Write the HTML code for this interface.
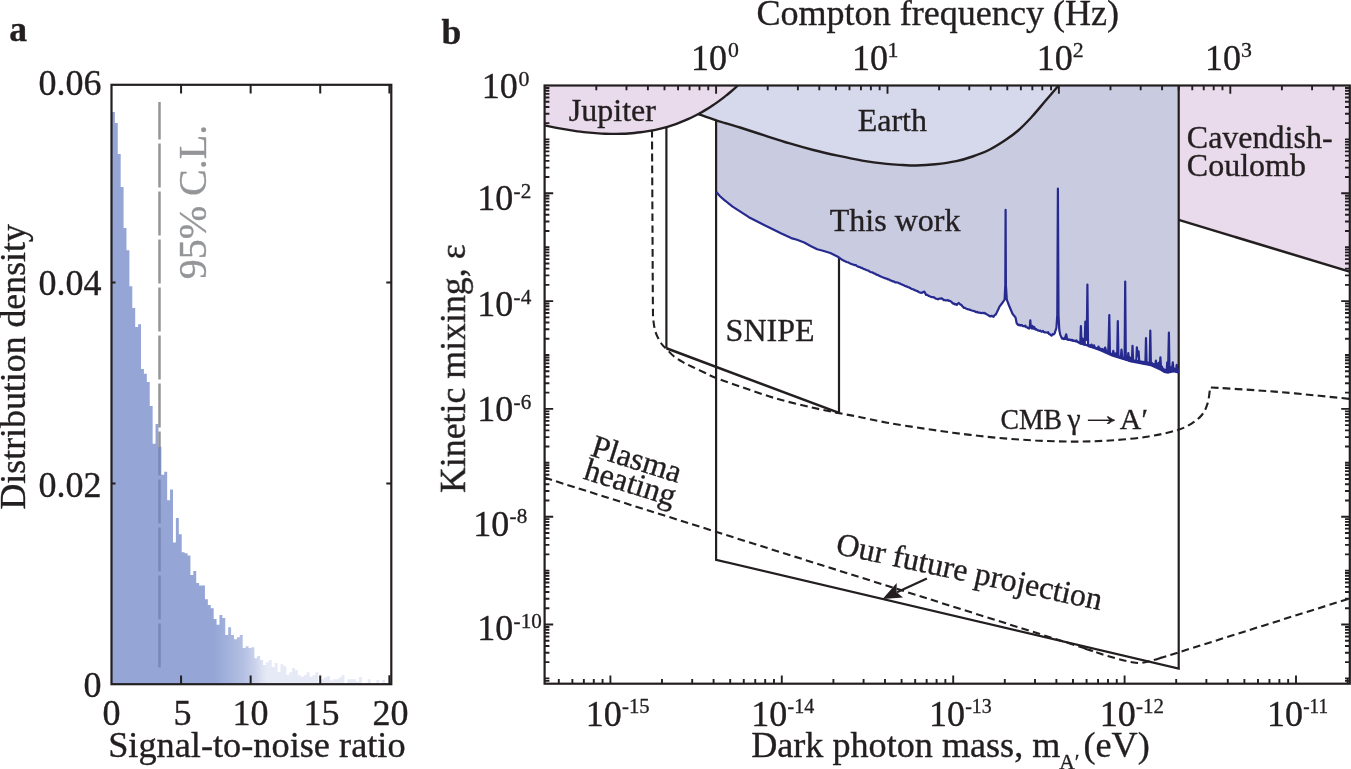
<!DOCTYPE html>
<html lang="en"><head><meta charset="utf-8"><title>Figure</title>
<style>html,body{margin:0;padding:0;background:#fff}svg{display:block}svg{color:#231f20}text{font-family:"Liberation Serif", "DejaVu Serif", serif;fill:currentColor;stroke:currentColor;stroke-width:0.35px}</style></head><body>
<svg width="1351" height="769" viewBox="0 0 1351 769">
<rect width="1351" height="769" fill="#fff"/>
<defs><filter id="flat" filterUnits="userSpaceOnUse" x="0" y="0" width="1351" height="769" color-interpolation-filters="sRGB"><feColorMatrix type="saturate" values="1"/></filter></defs>
<g filter="url(#flat)">
<g id="panel-a">
<defs><linearGradient id="hg" gradientUnits="userSpaceOnUse" x1="213" y1="0" x2="267" y2="0">
<stop offset="0" stop-color="#94a5d6"/>
<stop offset="0.22" stop-color="#a0afdb"/>
<stop offset="0.56" stop-color="#b4c0e2"/>
<stop offset="0.76" stop-color="#c8d0ea"/>
<stop offset="0.92" stop-color="#dee2f3"/>
<stop offset="1" stop-color="#e6e9f6"/>
</linearGradient></defs>
<path d="M111.95 684 L111.95 112.1 L114.86 112.1 L114.86 123 L117.76 123 L117.76 154 L120.67 154 L120.67 187 L123.57 187 L123.57 228 L126.48 228 L126.48 250.2 L129.39 250.2 L129.39 286.2 L132.29 286.2 L132.29 308 L135.2 308 L135.2 326.9 L138.1 326.9 L138.1 324.2 L141.01 324.2 L141.01 369 L143.92 369 L143.92 373.8 L146.82 373.8 L146.82 382.1 L149.73 382.1 L149.73 406 L152.63 406 L152.63 443.8 L155.54 443.8 L155.54 424 L158.45 424 L158.45 446.8 L161.35 446.8 L161.35 474.8 L164.26 474.8 L164.26 471.8 L167.16 471.8 L167.16 500.2 L170.07 500.2 L170.07 489.6 L172.98 489.6 L172.98 542.4 L175.88 542.4 L175.88 518 L178.79 518 L178.79 534.3 L181.69 534.3 L181.69 552.2 L184.6 552.2 L184.6 553.2 L187.51 553.2 L187.51 555.4 L190.41 555.4 L190.41 575 L193.32 575 L193.32 571 L196.22 571 L196.22 583.1 L199.13 583.1 L199.13 585.4 L202.04 585.4 L202.04 585.4 L204.94 585.4 L204.94 599.3 L207.85 599.3 L207.85 605 L210.75 605 L210.75 608.3 L213.66 608.3 L213.66 619.1 L216.57 619.1 L216.57 624.8 L219.47 624.8 L219.47 615.1 L222.38 615.1 L222.38 618.1 L225.28 618.1 L225.28 635 L228.19 635 L228.19 627.2 L231.1 627.2 L231.1 634.9 L234 634.9 L234 639.2 L236.91 639.2 L236.91 637.2 L239.81 637.2 L239.81 635.1 L242.72 635.1 L242.72 648 L245.63 648 L245.63 646.2 L248.53 646.2 L248.53 648 L251.44 648 L251.44 647.2 L254.34 647.2 L254.34 658.2 L257.25 658.2 L257.25 656 L260.16 656 L260.16 660.1 L263.06 660.1 L263.06 665.1 L265.97 665.1 L265.97 662.2 L268.87 662.2 L268.87 660.1 L271.78 660.1 L271.78 667.1 L274.69 667.1 L274.69 663.1 L277.59 663.1 L277.59 671.9 L280.5 671.9 L280.5 664.2 L283.4 664.2 L283.4 666.2 L286.31 666.2 L286.31 675.1 L289.22 675.1 L289.22 672.2 L292.12 672.2 L292.12 668.1 L295.03 668.1 L295.03 670.3 L297.93 670.3 L297.93 675.2 L300.84 675.2 L300.84 676.8 L303.75 676.8 L303.75 675.2 L306.65 675.2 L306.65 672.2 L309.56 672.2 L309.56 676.8 L312.46 676.8 L312.46 675.2 L315.37 675.2 L315.37 672.2 L318.28 672.2 L318.28 684 L321.18 684 L321.18 679.3 L324.09 679.3 L324.09 677.4 L326.99 677.4 L326.99 676.1 L329.9 676.1 L329.9 680.5 L332.81 680.5 L332.81 679.3 L335.71 679.3 L335.71 679.3 L338.62 679.3 L338.62 677.4 L341.52 677.4 L341.52 675.1 L344.43 675.1 L344.43 684 L347.34 684 L347.34 679.3 L350.24 679.3 L350.24 679.3 L353.15 679.3 L353.15 679.3 L356.05 679.3 L356.05 681.5 L358.96 681.5 L358.96 677.1 L361.87 677.1 L361.87 684 L364.77 684 L364.77 684 L367.68 684 L367.68 679.3 L370.58 679.3 L370.58 684 L373.49 684 L373.49 684 L376.4 684 L376.4 680 L379.3 680 L379.3 684 L382.21 684 L382.21 680 L385.11 680 L385.11 684 L388.02 684 L388.02 684 L390.4 684 L390.4 684 Z" fill="url(#hg)"/>
<defs><linearGradient id="clg" gradientUnits="userSpaceOnUse" x1="0" y1="102" x2="0" y2="667"><stop offset="0" stop-color="#939598"/><stop offset="0.6103" stop-color="#939598"/><stop offset="0.6103" stop-color="#7a88b4"/><stop offset="1" stop-color="#7a88b4"/></linearGradient></defs>
<path d="M159.5 102.1 V667.7" stroke="url(#clg)" stroke-width="2.5" fill="none" stroke-dasharray="44.2 3.8" stroke-dashoffset="6.7"/>
<text transform="translate(206.0 279.2) rotate(-90)" font-size="40" style="color:#939598">95% C.L.</text>
<rect x="111.5" y="84.8" width="279.8" height="599.4" fill="none" stroke="#231f20" stroke-width="2.2"/>
<path d="M181.07 84.8 v8.6 M181.07 684.2 v-8.6 M250.65 84.8 v8.6 M250.65 684.2 v-8.6 M320.23 84.8 v8.6 M320.23 684.2 v-8.6 M389.4 684.2 v-9 M389.4 84.8 v8.6 M111.5 282.6 h4 M391.3 282.6 h-5 M111.5 483.4 h4 M391.3 483.4 h-5" stroke="#231f20" stroke-width="2" fill="none"/>
<g font-size="36" fill="#231f20">
<text x="101.5" y="94.7" text-anchor="end">0.06</text>
<text x="101.5" y="294.7" text-anchor="end">0.04</text>
<text x="101.5" y="497" text-anchor="end">0.02</text>
<text x="101.5" y="696.5" text-anchor="end">0</text>
<text x="111.4" y="725.3" text-anchor="middle">0</text>
<text x="182.4" y="725.3" text-anchor="middle">5</text>
<text x="250.4" y="725.3" text-anchor="middle">10</text>
<text x="321.6" y="725.3" text-anchor="middle">15</text>
<text x="390.6" y="725.3" text-anchor="middle">20</text>
</g>
<text x="108.2" y="756.8" font-size="36.3" fill="#231f20">Signal-to-noise ratio</text>
<text transform="translate(25.4 509.5) rotate(-90)" font-size="35.8" fill="#231f20">Distribution density</text>
<text x="9.2" y="40.5" font-size="35.6" font-weight="bold" fill="#231f20">a</text>
</g>
<g id="panel-b">
<defs><clipPath id="bclip"><rect x="544.6" y="85.5" width="805.2" height="598.2"/></clipPath></defs>
<g clip-path="url(#bclip)">
<path d="M716.3 85.5 L1178.7 85.5 L1178.7 372.3 L1178.7 372.3 L1177.5 372.2 L1176.7 364.9 L1175.9 371.8 L1174.75 369.41 L1173.6 371.4 L1172.8 362.3 L1171.8 371.2 L1170.65 367.18 L1169.5 370.4 L1168.9 332.7 L1168.3 360 L1167.8 369.8 L1167.2 362.3 L1166.7 370.6 L1165.2 370.8 L1163.8 369.6 L1162.9 369.77 L1162 366.6 L1161.1 368.2 L1160.4 357.3 L1159.7 367.8 L1158.67 362.93 L1157.63 366.53 L1156.6 366.6 L1155.9 360.6 L1155.2 366 L1154.25 364.13 L1153.3 365.7 L1152.1 363.22 L1150.9 364.9 L1150.3 330.7 L1149.7 364.6 L1148.67 363.2 L1147.63 363.82 L1146.6 363.8 L1146 338.1 L1145.4 363.6 L1144.43 363.36 L1143.45 363.33 L1142.47 363.03 L1141.5 362.6 L1140.4 362.46 L1139.3 362 L1138.6 351.4 L1137.6 356 L1136.9 347.4 L1136.3 361.6 L1135.5 360.85 L1134.7 361.49 L1133.9 360.92 L1133.1 360.9 L1132.5 345.9 L1131.9 361 L1130.93 361.22 L1129.97 357.47 L1129 360.6 L1128.3 353 L1127.6 360 L1126.7 359.96 L1125.8 359.3 L1125.2 281.6 L1124.6 358.9 L1123.45 358.72 L1122.3 358.2 L1121.5 349.6 L1120.8 357.6 L1119.6 357.06 L1118.4 356.6 L1117.8 321.2 L1117.2 356.2 L1116.4 355.76 L1115.6 353.42 L1114.8 355.72 L1114 355 L1113.3 350.9 L1112.7 354.7 L1111.77 353.87 L1110.83 353.67 L1109.9 352.6 L1109.3 315 L1108.7 340 L1108.2 352 L1107.2 351.76 L1106.2 351.4 L1105.1 347.6 L1104 350.8 L1103.12 350.18 L1102.24 349.02 L1101.36 349.94 L1100.48 348.66 L1099.6 349.3 L1098.5 346.6 L1097.5 348.8 L1096.67 348.29 L1095.83 347.88 L1095 347.9 L1094 345.3 L1093 347.3 L1092.2 345.49 L1091.4 344.6 L1090.6 346.81 L1089.8 345.29 L1089 346.3 L1088 344 L1087.4 284.5 L1086.8 338 L1085.9 340 L1085.3 321.7 L1084.7 344.6 L1083.3 344.4 L1082.6 338.5 L1081.5 343.8 L1080.9 326 L1080.3 343.5 L1079.34 342.9 L1078.38 342.3 L1077.42 341.6 L1076.46 340.41 L1075.5 341.2 L1074.66 340.9 L1073.81 340.89 L1072.97 340.66 L1072.12 339.92 L1071.28 340.14 L1070.43 339.72 L1069.59 339.54 L1068.74 339.98 L1067.9 339.5 L1067.2 339.2 L1066.2 334.4 L1064.6 339 L1063.73 339.13 L1062.87 338.16 L1062 338.6 L1060.2 334.6 L1059.3 330 L1058.5 315 L1057.9 188.7 L1057.3 315 L1056.4 328 L1054.6 333.4 L1053.6 334.43 L1052.6 334.18 L1051.6 335.7 L1050.76 335.12 L1049.92 334.16 L1049.08 334.18 L1048.24 332.26 L1047.4 332.8 L1046.52 332.54 L1045.63 332.31 L1044.75 332.41 L1043.87 332.05 L1042.98 331.01 L1042.1 331.6 L1041.16 331.61 L1040.22 330.63 L1039.28 330.96 L1038.34 330.26 L1037.4 330.4 L1036.4 329.18 L1035.4 329.6 L1034.2 327 L1033.3 328.8 L1032.3 325.8 L1031.6 328.4 L1030.8 327 L1030.3 320.3 L1029.9 326 L1029.1 328.6 L1028.14 328.16 L1027.18 327.38 L1026.22 327.28 L1025.26 325.58 L1024.3 326.3 L1023.46 326.02 L1022.61 326.09 L1021.77 324.97 L1020.93 325.07 L1020.09 325.56 L1019.24 324.65 L1018.4 325.1 L1017.55 324.33 L1016.7 323.3 L1015.5 317.4 L1014.5 316.24 L1013.5 315.07 L1012.5 313.8 L1009 305.5 L1006.8 299.6 L1005.9 285 L1005.6 209.9 L1005.3 285 L1004.6 299.6 L1003 302 L999.5 306.7 L995.9 314.4 L994.75 314.91 L993.6 316.8 L992.7 316.54 L991.8 315.78 L990.9 316.16 L990 316.4 L989.06 315.77 L988.12 315.17 L987.18 314.58 L986.24 313.89 L985.3 313.6 L984.41 312.82 L983.52 313.18 L982.64 312.78 L981.75 313.08 L980.86 313.04 L979.98 312.69 L979.09 312.7 L978.2 312.6 L977.31 311.96 L976.43 312.06 L975.54 311.84 L974.65 311.32 L973.76 310.95 L972.88 310.74 L971.99 310.56 L971.1 310.3 L970.21 309.85 L969.33 309.66 L968.44 309.5 L967.55 309.1 L966.66 308.83 L965.77 308.49 L964.89 307.72 L964 307.9 L963.12 307.04 L962.25 306.16 L961.38 304.82 L960.5 304.6 L959.55 303.74 L958.6 302.9 L957.7 303.88 L956.8 304.9 L955.92 304.04 L955.05 304.43 L954.17 303.6 L953.3 303.8 L952.1 302.61 L950.9 301.4 L949.92 300.83 L948.95 300.89 L947.98 300.08 L947 300.4 L946.2 300.36 L945.4 300.36 L944.6 299.94 L943.8 300.2 L942.6 298.86 L941.4 298.4 L940.52 298.71 L939.65 298.72 L938.77 298.76 L937.9 299.4 L937.06 298.94 L936.21 298.77 L935.37 298.45 L934.53 297.64 L933.69 297.4 L932.84 297.01 L932 297.2 L931.16 296.9 L930.31 296.57 L929.47 296.14 L928.63 295.9 L927.79 295.24 L926.94 294.88 L926.1 294.9 L924.3 291.6 L923.35 291.81 L922.4 292.6 L921.6 292.71 L920.8 292.9 L919.98 292.45 L919.16 292.23 L918.35 291.8 L917.53 291.09 L916.71 291.01 L915.89 290.56 L915.07 290.21 L914.25 290.07 L913.44 289.26 L912.62 289.22 L911.8 288.9 L910.96 288.53 L910.11 288.07 L909.27 287.45 L908.43 287.32 L907.59 287 L906.74 286.43 L905.9 286.33 L905.06 285.9 L904.21 285.51 L903.37 285.06 L902.53 284.73 L901.69 284.36 L900.84 284.03 L900 283.6 L899.08 283.31 L898.16 282.77 L897.24 282.5 L896.32 282.39 L895.4 282.4 L894.59 281.98 L893.77 281.3 L892.95 281.38 L892.14 281.12 L891.33 280.58 L890.51 280.43 L889.69 280.09 L888.88 279.27 L888.07 279.44 L887.25 279.09 L886.43 278.48 L885.62 278.35 L884.81 278.15 L883.99 277.77 L883.17 277.46 L882.36 277.19 L881.55 276.78 L880.73 276.5 L879.91 276.11 L879.1 275.8 L878.28 275.09 L877.47 274.93 L876.65 274.76 L875.84 274.27 L875.02 273.67 L874.21 273.46 L873.39 273.03 L872.58 272.49 L871.76 272.24 L870.95 272.21 L870.13 271.82 L869.32 271.39 L868.5 270.54 L867.69 270.42 L866.88 270.25 L866.06 269.98 L865.25 269.31 L864.43 269.14 L863.62 268.86 L862.8 268.5 L861.99 267.96 L861.18 267.87 L860.37 267.37 L859.56 267.01 L858.75 266.91 L857.94 266.57 L857.13 266.22 L856.32 265.52 L855.51 265.05 L854.7 265.1 L853.89 264.79 L853.08 264.61 L852.27 264.25 L851.46 263.96 L850.65 263.66 L849.84 263.34 L849.03 262.85 L848.22 262.42 L847.41 262.28 L846.6 262 L843 260.3 L838.4 257.1 L830.3 253 L823 250.8 L817.2 249.3 L811 246.3 L804.2 242.5 L797 239.8 L791.2 238.1 L781.4 233.5 L765.1 225.4 L748.9 217.2 L732.6 206.6 L724.4 200.1 L720 196.2 L716.3 192 Z" fill="#c9cbe1"/>
<path d="M544.6 85.5 L544.5 125.35 C545.5 125.56 548.5 126.21 550.5 126.62 C552.5 127.03 554.5 127.43 556.5 127.81 C558.5 128.19 560.5 128.56 562.5 128.91 C564.5 129.26 566.5 129.6 568.5 129.92 C570.5 130.24 572.5 130.55 574.5 130.84 C576.5 131.13 578.5 131.39 580.5 131.64 C582.5 131.89 584.5 132.13 586.5 132.34 C588.5 132.55 590.5 132.75 592.5 132.92 C594.5 133.09 596.5 133.24 598.5 133.37 C600.5 133.5 602.5 133.61 604.5 133.69 C606.5 133.77 608.5 133.83 610.5 133.86 C612.5 133.89 614.5 133.91 616.5 133.89 C618.5 133.87 620.5 133.83 622.5 133.76 C624.5 133.69 626.5 133.59 628.5 133.46 C630.5 133.33 632.5 133.17 634.5 132.98 C636.5 132.79 638.5 132.57 640.5 132.31 C642.5 132.05 644.5 131.76 646.5 131.44 C648.5 131.12 650.5 130.77 652.5 130.37 C654.5 129.97 656.5 129.54 658.5 129.07 C660.5 128.6 662.5 128.1 664.5 127.55 C666.5 127 668.5 126.41 670.5 125.78 C672.5 125.15 674.5 124.48 676.5 123.76 C678.5 123.04 680.5 122.28 682.5 121.47 C684.5 120.66 686.5 119.81 688.5 118.9 C690.5 118 692.85 116.85 694.5 116.04 C696.15 115.23 697.4 114.55 698.4 114.02 C699.4 113.49 699.15 113.64 700.5 112.87 C701.85 112.1 704.5 110.61 706.5 109.39 C708.5 108.17 710.5 106.9 712.5 105.57 C714.5 104.24 716.5 102.85 718.5 101.4 C720.5 99.95 722.5 98.44 724.5 96.87 C726.5 95.3 728.5 93.67 730.5 91.97 C732.5 90.27 735.28 87.75 736.5 86.67 C737.72 85.59 737.58 85.69 737.8 85.5 L737.8 85.5 Z" fill="#e9dbeb"/>
<path d="M1178.7 85.5 L1178.7 219.9 L1351 272 L1351 85.5 Z" fill="#e9dbeb"/>
<path d="M698.4 114.02 C698.75 113.83 699.15 113.64 700.5 112.87 C701.85 112.1 704.5 110.61 706.5 109.39 C708.5 108.17 710.5 106.9 712.5 105.57 C714.5 104.24 716.5 102.85 718.5 101.4 C720.5 99.95 722.5 98.44 724.5 96.87 C726.5 95.3 728.5 93.67 730.5 91.97 C732.5 90.27 735.28 87.75 736.5 86.67 C737.72 85.59 737.58 85.69 737.8 85.5 L1058.6 85.5 L1058.6 85.5 C1057.28 87.03 1053.63 91.27 1050.7 94.7 C1047.77 98.13 1044.25 102.3 1041 106.1 C1037.75 109.9 1035 113.43 1031.2 117.5 C1027.4 121.57 1022.55 126.7 1018.2 130.5 C1013.85 134.3 1009.98 137.05 1005.1 140.3 C1000.22 143.55 994.32 147.3 988.9 150 C983.48 152.7 978.03 154.63 972.6 156.5 C967.17 158.37 962.5 159.9 956.3 161.2 C950.1 162.5 942.13 163.58 935.4 164.3 C928.67 165.02 921.33 165.38 915.9 165.5 C910.47 165.62 907.68 165.27 902.8 165 C897.92 164.73 893.38 164.63 886.6 163.9 C879.82 163.17 870.25 161.97 862.1 160.6 C853.95 159.23 845.83 157.47 837.7 155.7 C829.57 153.93 821.43 152.08 813.3 150 C805.17 147.92 797.05 145.63 788.9 143.2 C780.75 140.77 772.55 138.02 764.4 135.4 C756.25 132.78 748.02 130.02 740 127.5 C731.98 124.98 723.23 122.55 716.3 120.3 C709.37 118.05 701.38 115.07 698.4 114.02 Z" fill="#d6d8eb"/>
<g fill="none" stroke="#231f20" stroke-linejoin="miter">
<path d="M544.5 125.35 C545.5 125.56 548.5 126.21 550.5 126.62 C552.5 127.03 554.5 127.43 556.5 127.81 C558.5 128.19 560.5 128.56 562.5 128.91 C564.5 129.26 566.5 129.6 568.5 129.92 C570.5 130.24 572.5 130.55 574.5 130.84 C576.5 131.13 578.5 131.39 580.5 131.64 C582.5 131.89 584.5 132.13 586.5 132.34 C588.5 132.55 590.5 132.75 592.5 132.92 C594.5 133.09 596.5 133.24 598.5 133.37 C600.5 133.5 602.5 133.61 604.5 133.69 C606.5 133.77 608.5 133.83 610.5 133.86 C612.5 133.89 614.5 133.91 616.5 133.89 C618.5 133.87 620.5 133.83 622.5 133.76 C624.5 133.69 626.5 133.59 628.5 133.46 C630.5 133.33 632.5 133.17 634.5 132.98 C636.5 132.79 638.5 132.57 640.5 132.31 C642.5 132.05 644.5 131.76 646.5 131.44 C648.5 131.12 650.5 130.77 652.5 130.37 C654.5 129.97 656.5 129.54 658.5 129.07 C660.5 128.6 662.5 128.1 664.5 127.55 C666.5 127 668.5 126.41 670.5 125.78 C672.5 125.15 674.5 124.48 676.5 123.76 C678.5 123.04 680.5 122.28 682.5 121.47 C684.5 120.66 686.5 119.81 688.5 118.9 C690.5 118 692.85 116.85 694.5 116.04 C696.15 115.23 697.4 114.55 698.4 114.02 C699.4 113.49 699.15 113.64 700.5 112.87 C701.85 112.1 704.5 110.61 706.5 109.39 C708.5 108.17 710.5 106.9 712.5 105.57 C714.5 104.24 716.5 102.85 718.5 101.4 C720.5 99.95 722.5 98.44 724.5 96.87 C726.5 95.3 728.5 93.67 730.5 91.97 C732.5 90.27 735.28 87.75 736.5 86.67 C737.72 85.59 737.58 85.69 737.8 85.5" stroke-width="2.4"/>
<path d="M698.4 114.02 C701.38 115.07 709.37 118.05 716.3 120.3 C723.23 122.55 731.98 124.98 740 127.5 C748.02 130.02 756.25 132.78 764.4 135.4 C772.55 138.02 780.75 140.77 788.9 143.2 C797.05 145.63 805.17 147.92 813.3 150 C821.43 152.08 829.57 153.93 837.7 155.7 C845.83 157.47 853.95 159.23 862.1 160.6 C870.25 161.97 879.82 163.17 886.6 163.9 C893.38 164.63 897.92 164.73 902.8 165 C907.68 165.27 910.47 165.62 915.9 165.5 C921.33 165.38 928.67 165.02 935.4 164.3 C942.13 163.58 950.1 162.5 956.3 161.2 C962.5 159.9 967.17 158.37 972.6 156.5 C978.03 154.63 983.48 152.7 988.9 150 C994.32 147.3 1000.22 143.55 1005.1 140.3 C1009.98 137.05 1013.85 134.3 1018.2 130.5 C1022.55 126.7 1027.4 121.57 1031.2 117.5 C1035 113.43 1037.75 109.9 1041 106.1 C1044.25 102.3 1047.77 98.13 1050.7 94.7 C1053.63 91.27 1057.28 87.03 1058.6 85.5" stroke-width="2.4"/>
<path d="M1178.7 219.9 L1351 272" stroke-width="2.4"/>
<path d="M716.1 121 L716.1 559.8 L1178.7 668.6 L1178.7 85.5" stroke-width="2.2"/>
<path d="M666.4 127 L666.4 348.3" stroke-width="2.2"/>
<path d="M839 257.5 L839 412.9" stroke-width="2.2"/>
<path d="M666.4 348.3 L839 412.9" stroke-width="2.6"/>
<path d="M652 130 C652.08 146.67 652.35 200.67 652.5 230 C652.65 259.33 652.77 291.17 652.9 306 C653.03 320.83 653.03 315.33 653.3 319 C653.57 322.67 653.98 325.43 654.5 328 C655.02 330.57 655.6 332.37 656.4 334.4 C657.2 336.43 658.23 338.37 659.3 340.2 C660.37 342.03 661.57 343.9 662.8 345.4 C664.03 346.9 664.87 347.4 666.7 349.2 C668.53 351 671.1 354.05 673.8 356.2 C676.5 358.35 679.87 360.35 682.9 362.1 C685.93 363.85 688.53 365.02 692 366.7 C695.47 368.38 699.8 370.35 703.7 372.2 C707.6 374.05 709.47 375.47 715.4 377.8 C721.33 380.13 729.25 382.77 739.3 386.2 C749.35 389.63 763.57 394.85 775.7 398.4 C787.83 401.95 801.78 405.08 812.1 407.5 C822.42 409.92 830 411.38 837.6 412.9 C845.2 414.42 849.45 414.97 857.7 416.6 C865.95 418.23 876.02 420.7 887.1 422.7 C898.18 424.7 911.85 426.75 924.2 428.6 C936.55 430.45 948.85 432.25 961.2 433.8 C973.55 435.35 985.93 436.78 998.3 437.9 C1010.67 439.02 1023.03 439.88 1035.4 440.5 C1047.77 441.12 1060.13 441.6 1072.5 441.6 C1084.87 441.6 1097.23 441.3 1109.6 440.5 C1121.97 439.7 1135.58 438.48 1146.7 436.8 C1157.82 435.12 1168.88 432.57 1176.3 430.4 C1183.72 428.23 1186.87 426.45 1191.2 423.8 C1195.53 421.15 1199.57 417.9 1202.3 414.5 C1205.03 411.1 1206.38 407.15 1207.6 403.4 C1208.82 399.65 1209.17 394.67 1209.6 392 C1210.03 389.33 1210.1 388.17 1210.2 387.4 L1210.2 387.4 C1218.15 387.9 1243.77 389.4 1257.9 390.4 C1272.03 391.4 1279.68 391.98 1295 393.4 C1310.32 394.82 1340.67 397.98 1349.8 398.9" stroke-width="2.1" stroke-dasharray="7.6 4.3"/>
<path d="M544.8 477.8 C627.33 503.85 949.8 605.55 1040 634.1 C1130.2 662.65 1073.33 645.05 1086 649.1 C1098.67 653.15 1108.32 656.22 1116 658.4 C1123.68 660.58 1127.88 661.45 1132.1 662.2 C1136.32 662.95 1138.23 663.1 1141.3 662.9 C1144.37 662.7 1146.88 661.95 1150.5 661 C1154.12 660.05 1158.4 658.62 1163 657.2 C1167.6 655.78 1146.97 662.3 1178.1 652.5 C1209.23 642.7 1321.18 607.42 1349.8 598.4" stroke-width="2.1" stroke-dasharray="7.6 4.3"/>
</g>
<path d="M1062 339.2 L1075.5 342.2 L1089 347.3 L1100 351.2 L1111.7 356.5 L1131.2 362.5 L1150.7 366.2 L1160 370.6 L1164 373 L1167.9 373.8 L1174.1 372.2 L1178.7 373.8 L1178.7 368.98 L1174.1 367.5 L1167.9 369.26 L1164 368.56 L1160 366.27 L1150.7 362.11 L1131.2 358.91 L1111.7 353.41 L1100 348.42 L1089 344.8 L1075.5 340.05 L1062 337.4 Z" fill="#262a8f"/>
<path d="M716.3 192 L720 196.2 L724.4 200.1 L732.6 206.6 L748.9 217.2 L765.1 225.4 L781.4 233.5 L791.2 238.1 L797 239.8 L804.2 242.5 L811 246.3 L817.2 249.3 L823 250.8 L830.3 253 L838.4 257.1 L843 260.3 L846.6 262 L847.41 262.28 L848.22 262.42 L849.03 262.85 L849.84 263.34 L850.65 263.66 L851.46 263.96 L852.27 264.25 L853.08 264.61 L853.89 264.79 L854.7 265.1 L855.51 265.05 L856.32 265.52 L857.13 266.22 L857.94 266.57 L858.75 266.91 L859.56 267.01 L860.37 267.37 L861.18 267.87 L861.99 267.96 L862.8 268.5 L863.62 268.86 L864.43 269.14 L865.25 269.31 L866.06 269.98 L866.88 270.25 L867.69 270.42 L868.5 270.54 L869.32 271.39 L870.13 271.82 L870.95 272.21 L871.76 272.24 L872.58 272.49 L873.39 273.03 L874.21 273.46 L875.02 273.67 L875.84 274.27 L876.65 274.76 L877.47 274.93 L878.28 275.09 L879.1 275.8 L879.91 276.11 L880.73 276.5 L881.55 276.78 L882.36 277.19 L883.17 277.46 L883.99 277.77 L884.81 278.15 L885.62 278.35 L886.43 278.48 L887.25 279.09 L888.07 279.44 L888.88 279.27 L889.69 280.09 L890.51 280.43 L891.33 280.58 L892.14 281.12 L892.95 281.38 L893.77 281.3 L894.59 281.98 L895.4 282.4 L896.32 282.39 L897.24 282.5 L898.16 282.77 L899.08 283.31 L900 283.6 L900.84 284.03 L901.69 284.36 L902.53 284.73 L903.37 285.06 L904.21 285.51 L905.06 285.9 L905.9 286.33 L906.74 286.43 L907.59 287 L908.43 287.32 L909.27 287.45 L910.11 288.07 L910.96 288.53 L911.8 288.9 L912.62 289.22 L913.44 289.26 L914.25 290.07 L915.07 290.21 L915.89 290.56 L916.71 291.01 L917.53 291.09 L918.35 291.8 L919.16 292.23 L919.98 292.45 L920.8 292.9 L921.6 292.71 L922.4 292.6 L923.35 291.81 L924.3 291.6 L926.1 294.9 L926.94 294.88 L927.79 295.24 L928.63 295.9 L929.47 296.14 L930.31 296.57 L931.16 296.9 L932 297.2 L932.84 297.01 L933.69 297.4 L934.53 297.64 L935.37 298.45 L936.21 298.77 L937.06 298.94 L937.9 299.4 L938.77 298.76 L939.65 298.72 L940.52 298.71 L941.4 298.4 L942.6 298.86 L943.8 300.2 L944.6 299.94 L945.4 300.36 L946.2 300.36 L947 300.4 L947.98 300.08 L948.95 300.89 L949.92 300.83 L950.9 301.4 L952.1 302.61 L953.3 303.8 L954.17 303.6 L955.05 304.43 L955.92 304.04 L956.8 304.9 L957.7 303.88 L958.6 302.9 L959.55 303.74 L960.5 304.6 L961.38 304.82 L962.25 306.16 L963.12 307.04 L964 307.9 L964.89 307.72 L965.77 308.49 L966.66 308.83 L967.55 309.1 L968.44 309.5 L969.33 309.66 L970.21 309.85 L971.1 310.3 L971.99 310.56 L972.88 310.74 L973.76 310.95 L974.65 311.32 L975.54 311.84 L976.43 312.06 L977.31 311.96 L978.2 312.6 L979.09 312.7 L979.98 312.69 L980.86 313.04 L981.75 313.08 L982.64 312.78 L983.52 313.18 L984.41 312.82 L985.3 313.6 L986.24 313.89 L987.18 314.58 L988.12 315.17 L989.06 315.77 L990 316.4 L990.9 316.16 L991.8 315.78 L992.7 316.54 L993.6 316.8 L994.75 314.91 L995.9 314.4 L999.5 306.7 L1003 302 L1004.6 299.6 L1005.3 285 L1005.6 209.9 L1005.9 285 L1006.8 299.6 L1009 305.5 L1012.5 313.8 L1013.5 315.07 L1014.5 316.24 L1015.5 317.4 L1016.7 323.3 L1017.55 324.33 L1018.4 325.1 L1019.24 324.65 L1020.09 325.56 L1020.93 325.07 L1021.77 324.97 L1022.61 326.09 L1023.46 326.02 L1024.3 326.3 L1025.26 325.58 L1026.22 327.28 L1027.18 327.38 L1028.14 328.16 L1029.1 328.6 L1029.9 326 L1030.3 320.3 L1030.8 327 L1031.6 328.4 L1032.3 325.8 L1033.3 328.8 L1034.2 327 L1035.4 329.6 L1036.4 329.18 L1037.4 330.4 L1038.34 330.26 L1039.28 330.96 L1040.22 330.63 L1041.16 331.61 L1042.1 331.6 L1042.98 331.01 L1043.87 332.05 L1044.75 332.41 L1045.63 332.31 L1046.52 332.54 L1047.4 332.8 L1048.24 332.26 L1049.08 334.18 L1049.92 334.16 L1050.76 335.12 L1051.6 335.7 L1052.6 334.18 L1053.6 334.43 L1054.6 333.4 L1056.4 328 L1057.3 315 L1057.9 188.7 L1058.5 315 L1059.3 330 L1060.2 334.6 L1062 338.6 L1062.87 338.16 L1063.73 339.13 L1064.6 339 L1066.2 334.4 L1067.2 339.2 L1067.9 339.5 L1068.74 339.98 L1069.59 339.54 L1070.43 339.72 L1071.28 340.14 L1072.12 339.92 L1072.97 340.66 L1073.81 340.89 L1074.66 340.9 L1075.5 341.2 L1076.46 340.41 L1077.42 341.6 L1078.38 342.3 L1079.34 342.9 L1080.3 343.5 L1080.9 326 L1081.5 343.8 L1082.6 338.5 L1083.3 344.4 L1084.7 344.6 L1085.3 321.7 L1085.9 340 L1086.8 338 L1087.4 284.5 L1088 344 L1089 346.3 L1089.8 345.29 L1090.6 346.81 L1091.4 344.6 L1092.2 345.49 L1093 347.3 L1094 345.3 L1095 347.9 L1095.83 347.88 L1096.67 348.29 L1097.5 348.8 L1098.5 346.6 L1099.6 349.3 L1100.48 348.66 L1101.36 349.94 L1102.24 349.02 L1103.12 350.18 L1104 350.8 L1105.1 347.6 L1106.2 351.4 L1107.2 351.76 L1108.2 352 L1108.7 340 L1109.3 315 L1109.9 352.6 L1110.83 353.67 L1111.77 353.87 L1112.7 354.7 L1113.3 350.9 L1114 355 L1114.8 355.72 L1115.6 353.42 L1116.4 355.76 L1117.2 356.2 L1117.8 321.2 L1118.4 356.6 L1119.6 357.06 L1120.8 357.6 L1121.5 349.6 L1122.3 358.2 L1123.45 358.72 L1124.6 358.9 L1125.2 281.6 L1125.8 359.3 L1126.7 359.96 L1127.6 360 L1128.3 353 L1129 360.6 L1129.97 357.47 L1130.93 361.22 L1131.9 361 L1132.5 345.9 L1133.1 360.9 L1133.9 360.92 L1134.7 361.49 L1135.5 360.85 L1136.3 361.6 L1136.9 347.4 L1137.6 356 L1138.6 351.4 L1139.3 362 L1140.4 362.46 L1141.5 362.6 L1142.47 363.03 L1143.45 363.33 L1144.43 363.36 L1145.4 363.6 L1146 338.1 L1146.6 363.8 L1147.63 363.82 L1148.67 363.2 L1149.7 364.6 L1150.3 330.7 L1150.9 364.9 L1152.1 363.22 L1153.3 365.7 L1154.25 364.13 L1155.2 366 L1155.9 360.6 L1156.6 366.6 L1157.63 366.53 L1158.67 362.93 L1159.7 367.8 L1160.4 357.3 L1161.1 368.2 L1162 366.6 L1162.9 369.77 L1163.8 369.6 L1165.2 370.8 L1166.7 370.6 L1167.2 362.3 L1167.8 369.8 L1168.3 360 L1168.9 332.7 L1169.5 370.4 L1170.65 367.18 L1171.8 371.2 L1172.8 362.3 L1173.6 371.4 L1174.75 369.41 L1175.9 371.8 L1176.7 364.9 L1177.5 372.2 L1178.7 372.3" fill="none" stroke="#262a8f" stroke-width="2.2" stroke-linejoin="round"/>
</g>
<path d="M926.9 578.6 L897 592.3" stroke="#231f20" stroke-width="2.2" fill="none"/>
<path d="M882.6 598.9 L896.7 583.0 L896.6 592.3 L903.0 597.6 Z" fill="#231f20"/>
<rect x="544.6" y="85.5" width="805.2" height="598.2" fill="none" stroke="#231f20" stroke-width="2.2"/>
<path d="M716.1 85.5 v8.3 M887.5 85.5 v8.3 M1058.9 85.5 v8.3 M1230.3 85.5 v8.3 M596.3 85.5 v4.8 M626.48 85.5 v4.8 M647.89 85.5 v4.8 M664.5 85.5 v4.8 M678.08 85.5 v4.8 M689.55 85.5 v4.8 M699.49 85.5 v4.8 M708.26 85.5 v4.8 M767.7 85.5 v4.8 M797.88 85.5 v4.8 M819.29 85.5 v4.8 M835.9 85.5 v4.8 M849.48 85.5 v4.8 M860.95 85.5 v4.8 M870.89 85.5 v4.8 M879.66 85.5 v4.8 M939.1 85.5 v4.8 M969.28 85.5 v4.8 M990.69 85.5 v4.8 M1007.3 85.5 v4.8 M1020.88 85.5 v4.8 M1032.35 85.5 v4.8 M1042.29 85.5 v4.8 M1051.06 85.5 v4.8 M1110.5 85.5 v4.8 M1140.68 85.5 v4.8 M1162.09 85.5 v4.8 M1178.7 85.5 v4.8 M1192.28 85.5 v4.8 M1203.75 85.5 v4.8 M1213.69 85.5 v4.8 M1222.46 85.5 v4.8 M1281.9 85.5 v4.8 M1312.08 85.5 v4.8 M1333.49 85.5 v4.8 M610.4 683.7 v-8.3 M781.8 683.7 v-8.3 M953.2 683.7 v-8.3 M1124.6 683.7 v-8.3 M1296 683.7 v-8.3 M558.8 683.7 v-4.8 M572.38 683.7 v-4.8 M583.85 683.7 v-4.8 M593.79 683.7 v-4.8 M602.56 683.7 v-4.8 M662 683.7 v-4.8 M692.18 683.7 v-4.8 M713.59 683.7 v-4.8 M730.2 683.7 v-4.8 M743.78 683.7 v-4.8 M755.25 683.7 v-4.8 M765.19 683.7 v-4.8 M773.96 683.7 v-4.8 M833.4 683.7 v-4.8 M863.58 683.7 v-4.8 M884.99 683.7 v-4.8 M901.6 683.7 v-4.8 M915.18 683.7 v-4.8 M926.65 683.7 v-4.8 M936.59 683.7 v-4.8 M945.36 683.7 v-4.8 M1004.8 683.7 v-4.8 M1034.98 683.7 v-4.8 M1056.39 683.7 v-4.8 M1073 683.7 v-4.8 M1086.58 683.7 v-4.8 M1098.05 683.7 v-4.8 M1107.99 683.7 v-4.8 M1116.76 683.7 v-4.8 M1176.2 683.7 v-4.8 M1206.38 683.7 v-4.8 M1227.79 683.7 v-4.8 M1244.4 683.7 v-4.8 M1257.98 683.7 v-4.8 M1269.45 683.7 v-4.8 M1279.39 683.7 v-4.8 M1288.16 683.7 v-4.8 M1347.6 683.7 v-4.8 M544.6 123.17 h4.8 M1349.8 123.17 h-4.8 M544.6 113.68 h4.8 M1349.8 113.68 h-4.8 M544.6 106.95 h4.8 M1349.8 106.95 h-4.8 M544.6 101.73 h4.8 M1349.8 101.73 h-4.8 M544.6 97.46 h4.8 M1349.8 97.46 h-4.8 M544.6 93.85 h4.8 M1349.8 93.85 h-4.8 M544.6 90.72 h4.8 M1349.8 90.72 h-4.8 M544.6 87.97 h4.8 M1349.8 87.97 h-4.8 M544.6 139.4 h4.8 M1349.8 139.4 h-4.8 M544.6 177.07 h4.8 M1349.8 177.07 h-4.8 M544.6 167.58 h4.8 M1349.8 167.58 h-4.8 M544.6 160.85 h4.8 M1349.8 160.85 h-4.8 M544.6 155.63 h4.8 M1349.8 155.63 h-4.8 M544.6 151.36 h4.8 M1349.8 151.36 h-4.8 M544.6 147.75 h4.8 M1349.8 147.75 h-4.8 M544.6 144.62 h4.8 M1349.8 144.62 h-4.8 M544.6 141.87 h4.8 M1349.8 141.87 h-4.8 M544.6 193.3 h8.6 M1349.8 193.3 h-8.6 M544.6 230.97 h4.8 M1349.8 230.97 h-4.8 M544.6 221.48 h4.8 M1349.8 221.48 h-4.8 M544.6 214.75 h4.8 M1349.8 214.75 h-4.8 M544.6 209.53 h4.8 M1349.8 209.53 h-4.8 M544.6 205.26 h4.8 M1349.8 205.26 h-4.8 M544.6 201.65 h4.8 M1349.8 201.65 h-4.8 M544.6 198.52 h4.8 M1349.8 198.52 h-4.8 M544.6 195.77 h4.8 M1349.8 195.77 h-4.8 M544.6 247.2 h4.8 M1349.8 247.2 h-4.8 M544.6 284.87 h4.8 M1349.8 284.87 h-4.8 M544.6 275.38 h4.8 M1349.8 275.38 h-4.8 M544.6 268.65 h4.8 M1349.8 268.65 h-4.8 M544.6 263.43 h4.8 M1349.8 263.43 h-4.8 M544.6 259.16 h4.8 M1349.8 259.16 h-4.8 M544.6 255.55 h4.8 M1349.8 255.55 h-4.8 M544.6 252.42 h4.8 M1349.8 252.42 h-4.8 M544.6 249.67 h4.8 M1349.8 249.67 h-4.8 M544.6 301.1 h8.6 M1349.8 301.1 h-8.6 M544.6 338.77 h4.8 M1349.8 338.77 h-4.8 M544.6 329.28 h4.8 M1349.8 329.28 h-4.8 M544.6 322.55 h4.8 M1349.8 322.55 h-4.8 M544.6 317.33 h4.8 M1349.8 317.33 h-4.8 M544.6 313.06 h4.8 M1349.8 313.06 h-4.8 M544.6 309.45 h4.8 M1349.8 309.45 h-4.8 M544.6 306.32 h4.8 M1349.8 306.32 h-4.8 M544.6 303.57 h4.8 M1349.8 303.57 h-4.8 M544.6 355 h4.8 M1349.8 355 h-4.8 M544.6 392.67 h4.8 M1349.8 392.67 h-4.8 M544.6 383.18 h4.8 M1349.8 383.18 h-4.8 M544.6 376.45 h4.8 M1349.8 376.45 h-4.8 M544.6 371.23 h4.8 M1349.8 371.23 h-4.8 M544.6 366.96 h4.8 M1349.8 366.96 h-4.8 M544.6 363.35 h4.8 M1349.8 363.35 h-4.8 M544.6 360.22 h4.8 M1349.8 360.22 h-4.8 M544.6 357.47 h4.8 M1349.8 357.47 h-4.8 M544.6 408.9 h8.6 M1349.8 408.9 h-8.6 M544.6 446.57 h4.8 M1349.8 446.57 h-4.8 M544.6 437.08 h4.8 M1349.8 437.08 h-4.8 M544.6 430.35 h4.8 M1349.8 430.35 h-4.8 M544.6 425.13 h4.8 M1349.8 425.13 h-4.8 M544.6 420.86 h4.8 M1349.8 420.86 h-4.8 M544.6 417.25 h4.8 M1349.8 417.25 h-4.8 M544.6 414.12 h4.8 M1349.8 414.12 h-4.8 M544.6 411.37 h4.8 M1349.8 411.37 h-4.8 M544.6 462.8 h4.8 M1349.8 462.8 h-4.8 M544.6 500.47 h4.8 M1349.8 500.47 h-4.8 M544.6 490.98 h4.8 M1349.8 490.98 h-4.8 M544.6 484.25 h4.8 M1349.8 484.25 h-4.8 M544.6 479.03 h4.8 M1349.8 479.03 h-4.8 M544.6 474.76 h4.8 M1349.8 474.76 h-4.8 M544.6 471.15 h4.8 M1349.8 471.15 h-4.8 M544.6 468.02 h4.8 M1349.8 468.02 h-4.8 M544.6 465.27 h4.8 M1349.8 465.27 h-4.8 M544.6 516.7 h8.6 M1349.8 516.7 h-8.6 M544.6 554.37 h4.8 M1349.8 554.37 h-4.8 M544.6 544.88 h4.8 M1349.8 544.88 h-4.8 M544.6 538.15 h4.8 M1349.8 538.15 h-4.8 M544.6 532.93 h4.8 M1349.8 532.93 h-4.8 M544.6 528.66 h4.8 M1349.8 528.66 h-4.8 M544.6 525.05 h4.8 M1349.8 525.05 h-4.8 M544.6 521.92 h4.8 M1349.8 521.92 h-4.8 M544.6 519.17 h4.8 M1349.8 519.17 h-4.8 M544.6 570.6 h4.8 M1349.8 570.6 h-4.8 M544.6 608.27 h4.8 M1349.8 608.27 h-4.8 M544.6 598.78 h4.8 M1349.8 598.78 h-4.8 M544.6 592.05 h4.8 M1349.8 592.05 h-4.8 M544.6 586.83 h4.8 M1349.8 586.83 h-4.8 M544.6 582.56 h4.8 M1349.8 582.56 h-4.8 M544.6 578.95 h4.8 M1349.8 578.95 h-4.8 M544.6 575.82 h4.8 M1349.8 575.82 h-4.8 M544.6 573.07 h4.8 M1349.8 573.07 h-4.8 M544.6 624.5 h8.6 M1349.8 624.5 h-8.6 M544.6 662.17 h4.8 M1349.8 662.17 h-4.8 M544.6 652.68 h4.8 M1349.8 652.68 h-4.8 M544.6 645.95 h4.8 M1349.8 645.95 h-4.8 M544.6 640.73 h4.8 M1349.8 640.73 h-4.8 M544.6 636.46 h4.8 M1349.8 636.46 h-4.8 M544.6 632.85 h4.8 M1349.8 632.85 h-4.8 M544.6 629.72 h4.8 M1349.8 629.72 h-4.8 M544.6 626.97 h4.8 M1349.8 626.97 h-4.8 M544.6 678.4 h4.8 M1349.8 678.4 h-4.8 M544.6 680.87 h4.8 M1349.8 680.87 h-4.8" stroke="#231f20" stroke-width="1.9" fill="none"/>
<text x="481.7" y="98.1" font-size="36" fill="#231f20">10</text>
<text transform="translate(518.5 85.7) scale(1 1)" font-size="21.8" fill="#231f20">0</text>
<text x="477.3" y="210.2" font-size="36" fill="#231f20">10</text>
<text transform="translate(513.6 197.8) scale(0.97 1)" font-size="21.8" fill="#231f20">-2</text>
<text x="477.3" y="316.2" font-size="36" fill="#231f20">10</text>
<text transform="translate(513.6 303.8) scale(0.97 1)" font-size="21.8" fill="#231f20">-4</text>
<text x="477.3" y="421.3" font-size="36" fill="#231f20">10</text>
<text transform="translate(513.6 408.9) scale(0.97 1)" font-size="21.8" fill="#231f20">-6</text>
<text x="473.3" y="535.6" font-size="36" fill="#231f20">10</text>
<text transform="translate(509.6 523.2) scale(0.97 1)" font-size="21.8" fill="#231f20">-8</text>
<text x="477.3" y="640" font-size="36" fill="#231f20">10</text>
<text transform="translate(513.6 627.6) scale(0.97 1)" font-size="21.8" fill="#231f20">-10</text>
<text x="691.1" y="69.5" font-size="36" fill="#231f20">10</text>
<text transform="translate(727.9 57.1) scale(1 1)" font-size="21.8" fill="#231f20">0</text>
<text x="852.1" y="69.5" font-size="36" fill="#231f20">10</text>
<text transform="translate(887.4 57.1) scale(1 1)" font-size="21.8" fill="#231f20">1</text>
<text x="1036.8" y="69.5" font-size="36" fill="#231f20">10</text>
<text transform="translate(1072.7 57.1) scale(1 1)" font-size="21.8" fill="#231f20">2</text>
<text x="1205.1" y="69.5" font-size="36" fill="#231f20">10</text>
<text transform="translate(1241 57.1) scale(1 1)" font-size="21.8" fill="#231f20">3</text>
<text x="585.7" y="725.5" font-size="36" fill="#231f20">10</text>
<text transform="translate(622 713.1) scale(0.95 1)" font-size="21.8" fill="#231f20">-15</text>
<text x="751.2" y="725.5" font-size="36" fill="#231f20">10</text>
<text transform="translate(787.5 713.1) scale(0.92 1)" font-size="21.8" fill="#231f20">-14</text>
<text x="928.9" y="725.5" font-size="36" fill="#231f20">10</text>
<text transform="translate(965.2 713.1) scale(0.91 1)" font-size="21.8" fill="#231f20">-13</text>
<text x="1099.7" y="725.5" font-size="36" fill="#231f20">10</text>
<text transform="translate(1136 713.1) scale(0.96 1)" font-size="21.8" fill="#231f20">-12</text>
<text x="1266.9" y="725.5" font-size="36" fill="#231f20">10</text>
<text transform="translate(1303.2 713.1) scale(0.88 1)" font-size="21.8" fill="#231f20">-11</text>
<text x="756.4" y="25.3" font-size="36.1" fill="#231f20">Compton frequency (Hz)</text>
<text x="751.2" y="756.8" font-size="36.15" fill="#231f20">Dark photon mass, m</text>
<text x="1059.2" y="769.4" font-size="21.5" fill="#231f20">A′</text>
<text x="1083.5" y="756.8" font-size="36.15" fill="#231f20">(eV)</text>
<text transform="translate(464.9 493) rotate(-90)" font-size="35.8" fill="#231f20">Kinetic mixing, ε</text>
<text x="441.4" y="43.6" font-size="35.6" font-weight="bold" fill="#231f20">b</text>
<g font-size="32" fill="#231f20">
<text x="568.8" y="120.7">Jupiter</text>
<text x="857.7" y="130.8">Earth</text>
<text x="829.8" y="231.1">This work</text>
<text x="725.6" y="341">SNIPE</text>
<text x="1186.8" y="147.8">Cavendish-</text>
<text x="1186.8" y="175.6">Coulomb</text>
<text x="1000.5" y="429.3" font-size="29.8" textLength="61.6" lengthAdjust="spacingAndGlyphs">CMB</text>
<text x="1067.6" y="429.3" font-size="29.8">γ</text>
<text transform="translate(1079.0 424.6) scale(1.5 1)" font-size="29.8">→</text>
<text x="1119.8" y="429.3" font-size="29.8">A</text>
<text x="1141.6" y="429.3" font-size="29.8">′</text>
<text transform="translate(589.6 455.3) rotate(17.4)">Plasma</text>
<text transform="translate(582.3 478.4) rotate(17.4)">heating</text>
<text transform="translate(834.8 553.4) rotate(12.1)" font-size="31.9">Our future projection</text>
</g>
</g>
</g>
</svg></body></html>
